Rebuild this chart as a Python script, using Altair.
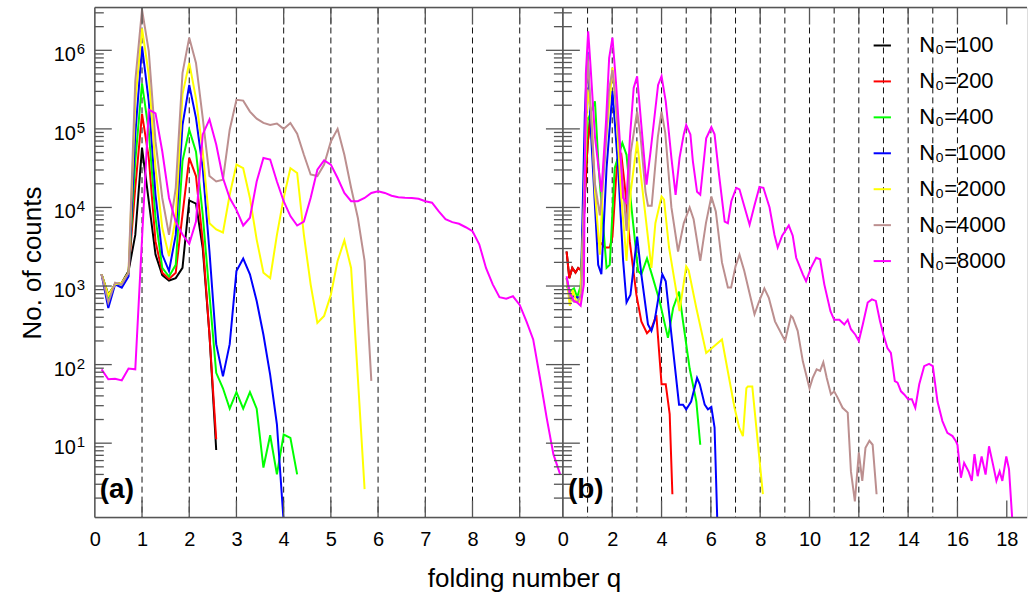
import altair as alt
import pandas as pd

# ---------------- series definitions ----------------
series_names = ["N₀=100", "N₀=200", "N₀=400", "N₀=1000", "N₀=2000", "N₀=4000", "N₀=8000"]
series_colors = ["#000000", "#ff0000", "#00ff00", "#0000ff", "#ffff00", "#bc8f8f", "#ff00ff"]

# ---------------- panel (a): counts on a grid of q = k/7 ----------------
a_black = [1410, 776, 1050, 1100, 1550, 4470, 57500, 12000, 2510, 1380, 1175, 1260, 1700,
           12300, 11200, 3050, 240, 8.2]
a_red = [1410, 710, 1050, 1050, 1480, 17800, 155000, 42700, 3700, 1480, 1230, 1480, 8100,
         42700, 25100, 3700, 240, 11.2]
a_green = [1410, 710, 1050, 1050, 1480, 38900, 380000, 93300, 7400, 1700, 1320, 1860, 38900,
           97700, 51300, 8100, 776, 78.5, 50, 27.5, 44.7, 27.5, 44.7, 27.5, 4.9, 12.6, 4.0,
           12.9, 11.7, 4.0]
a_blue = [1410, 525, 1050, 955, 1320, 85100, 1120000, 224000, 14500, 2510, 1550, 4470, 112000,
          363000, 138000, 31600, 2750, 182, 70.8, 182, 1550, 2240, 1410, 646, 240, 74, 17.4, 1.0]
a_yellow = [1410, 760, 1050, 1100, 1480, 224000, 1900000, 490000, 31600, 5500, 2400, 7400,
            275000, 692000, 245000, 51900, 6300, 5250, 4800, 14500, 35100, 31600, 13200, 3900,
            1480, 1260, 4470, 13200, 31600, 27500, 4470, 1050, 339, 417, 776, 2090, 3800, 1700,
            68, 2.6]
a_brown = [1410, 617, 1100, 1050, 1480, 407000, 3300000, 977000, 69200, 13200, 4470, 17800,
           513000, 1450000, 692000, 138000, 25100, 21400, 22600, 97700, 234000, 229000, 166000,
           135000, 119000, 112000, 117000, 100000, 119000, 87100, 46800, 26300, 25100, 35100,
           69200, 100000, 46800, 17800, 7400, 2090, 62]
a_magenta = [87, 65, 66, 63, 89, 87, 4000, 176000, 158000, 51900, 13200, 6600, 4520, 3440, 6600,
             85100, 132000, 63100, 23700, 13200, 9330, 5890, 7400, 21400, 42700, 40700, 21400,
             12000, 7760, 5890, 6600, 13200, 30200, 39800, 35100, 23700, 15300, 12000, 12000,
             13200, 15300, 16100, 15300, 14100, 13500, 13300, 13200, 12900, 12000, 11500, 8900,
             7100, 6500, 6200, 5600, 5000, 3400, 1700, 1050, 720, 690, 740, 575, 355, 209, 68,
             21, 7.2, 4.0]
a_series = [a_black, a_red, a_green, a_blue, a_yellow, a_brown, a_magenta]

# ---------------- panel (b): (q, counts) per series ----------------
b_red_q = [0.15, 0.26, 0.38, 0.51, 0.62, 0.75, 0.9, 1.0, 1.12, 1.25, 1.4, 1.7, 1.9, 2.01, 2.2,
           2.37, 2.5, 2.71, 2.98, 3.18, 3.41, 3.59, 3.79, 4.0, 4.17, 4.33, 4.44]
b_red = [2750, 1260, 1700, 1480, 1700, 1580, 15800, 63100, 151000, 31600, 3980, 3090, 3090, 4270,
         39800, 46800, 20000, 3720, 776, 355, 251, 288, 427, 56.2, 56.2, 23.4, 2.24]
b_black_q = [0.15, 0.26, 0.38, 0.51, 0.62, 0.75, 0.9, 1.0, 1.12]
b_black = [2750, 1260, 1700, 1480, 1700, 1580, 15800, 63100, 151000]
b_green_q = [0.15, 0.28, 0.45, 0.58, 0.72, 0.9, 1.0, 1.3, 1.45, 1.77, 1.9, 2.1, 2.41, 2.58, 2.78,
             3.05, 3.18, 3.41, 3.65, 3.92, 4.26, 4.47, 4.71, 4.87, 5.14, 5.41, 5.57]
b_green = [1000, 851, 933, 724, 1000, 31600, 126000, 224000, 31600, 1700, 1860, 31600, 66100,
           46800, 10000, 1550, 1410, 2240, 1260, 646, 219, 525, 851, 355, 89.1, 33.9, 9.55]
b_blue_q = [0.15, 0.28, 0.48, 0.72, 0.89, 1.0, 1.13, 1.43, 1.56, 1.77, 2.01, 2.24, 2.44, 2.58,
            2.74, 3.01, 3.18, 3.45, 3.59, 3.72, 4.03, 4.17, 4.4, 4.71, 4.87, 5.0, 5.2, 5.44,
            5.55, 5.75, 5.88, 6.02, 6.15, 6.29]
b_blue = [1260, 794, 724, 708, 158000, 955000, 100000, 1860, 1410, 31600, 302000, 31600, 2140,
          617, 776, 4270, 1410, 324, 269, 363, 1410, 1150, 240, 30.9, 30.9, 26.9, 33.9, 67.6,
          56.2, 30.9, 26.9, 28.8, 15.8, 0.5]
b_yellow_q = [0.15, 0.28, 0.4, 0.55, 0.7, 0.85, 1.0, 1.15, 1.3, 1.5, 1.65, 2.01, 2.15, 2.35,
              2.58, 2.75, 3.01, 3.2, 3.59, 3.75, 4.0, 4.1, 4.3, 4.73, 5.0, 5.1, 5.41, 5.81, 6.0,
              6.45, 6.96, 7.15, 7.3, 7.44, 7.5, 7.68, 8.11]
b_yellow = [1260, 562, 891, 631, 631, 10000, 316000, 158000, 15800, 2510, 31600, 603000, 200000,
            15800, 2090, 15800, 69200, 20000, 1700, 6310, 13800, 12600, 3160, 479, 1780, 1580,
            525, 141, 158, 209, 28.2, 15.8, 12.3, 50.1, 52.5, 52.5, 2.24]
b_brown_q = [0.15, 0.28, 0.45, 0.6, 0.75, 0.88, 1.0, 1.14, 1.3, 1.5, 1.7, 1.87, 2.01, 2.15, 2.35,
             2.58, 2.75, 3.01, 3.15, 3.35, 3.45, 3.6, 3.85, 4.0, 4.15, 4.4, 4.67, 4.9, 5.14, 5.3,
             5.57, 5.8, 6.02, 6.2, 6.45, 6.69, 6.82, 7.0, 7.16, 7.35, 7.77, 7.95, 8.17, 8.35,
             8.6, 9.01, 9.25, 9.32, 9.52, 9.73, 10.0, 10.13, 10.29, 10.43, 10.56, 10.7, 10.87,
             11.0, 11.14, 11.34, 11.55, 11.68, 11.84, 12.0, 12.14, 12.27, 12.43, 12.56, 12.72]
b_brown = [1260, 708, 631, 631, 794, 31600, 891000, 158000, 20000, 7940, 39800, 316000, 562000,
           200000, 39800, 5010, 50100, 166000, 79400, 15800, 10500, 10500, 79400, 166000, 89100,
           10000, 2750, 6310, 10000, 7080, 2090, 6310, 13800, 8910, 2000, 955, 955, 1780, 2510,
           1580, 437, 631, 933, 708, 355, 200, 417, 398, 269, 110, 50.1, 67.6, 87.1, 83.2, 107,
           67.6, 41.7, 45.7, 38.0, 28.2, 24.5, 4.37, 1.82, 7.59, 3.31, 8.71, 10.7, 9.55, 2.24]
b_magenta_q = [0.15, 0.28, 0.45, 0.58, 0.72, 0.85, 0.93, 1.025, 1.12, 1.3, 1.56, 1.75, 1.875,
               2.01, 2.15, 2.31, 2.44, 2.575, 2.72, 2.87, 3.01, 3.18, 3.39, 3.55, 3.86, 4.0, 4.17,
               4.4, 4.57, 4.73, 4.9, 5.0, 5.17, 5.27, 5.44, 5.57, 5.81, 6.02, 6.15, 6.33, 6.56,
               6.69, 6.83, 7.03, 7.16, 7.37, 7.57, 7.77, 7.97, 8.13, 8.38, 8.58, 8.71, 8.89,
               9.16, 9.32, 9.46, 9.73, 9.86, 10.06, 10.27, 10.43, 10.6, 10.85, 11.0, 11.21,
               11.41, 11.55, 11.68, 11.86, 12.0, 12.16, 12.36, 12.53, 12.69, 12.86, 13.0, 13.16,
               13.3, 13.46, 13.57, 13.71, 13.84, 14.0, 14.15, 14.29, 14.45, 14.65, 14.85, 15.0,
               15.19, 15.39, 15.59, 15.8, 15.93, 16.0, 16.14, 16.27, 16.45, 16.58, 16.69, 16.82,
               16.98, 17.14, 17.28, 17.44, 17.58, 17.71, 17.82, 17.98, 18.09, 18.27]
b_magenta = [1330, 813, 646, 617, 562, 1050, 501000, 1740000, 631000, 79400, 15800, 126000,
             794000, 1450000, 398000, 69200, 13200, 11500, 79400, 331000, 468000, 112000, 19500,
             50100, 363000, 468000, 224000, 42700, 14500, 42700, 85100, 112000, 85100, 38900,
             15800, 14500, 75900, 105000, 85100, 26300, 6610, 6310, 12000, 17800, 17000, 10000,
             6030, 10700, 18200, 17800, 10000, 4470, 3090, 4370, 5890, 4370, 2290, 1410, 1150,
             1700, 2290, 2190, 1050, 479, 372, 372, 324, 372, 282, 240, 200, 324, 617, 676, 646,
             355, 240, 162, 141, 61.7, 58.9, 45.7, 41.7, 36.3, 36.3, 28.2, 56.2, 95.5, 102, 95.5,
             33.9, 19.1, 13.5, 12.3, 10.7, 9.55, 3.63, 5.62, 4.37, 3.31, 7.24, 3.80, 6.76, 3.98,
             9.12, 5.37, 3.31, 4.37, 3.31, 6.76, 4.68, 0.63]
b_series_q = [b_black_q, b_red_q, b_green_q, b_blue_q, b_yellow_q, b_brown_q, b_magenta_q]
b_series = [b_black, b_red, b_green, b_blue, b_yellow, b_brown, b_magenta]

# axis / grid values
a_ticks = list(range(0, 10))
b_ticks = list(range(0, 19, 2))
a_grid = list(range(1, 10))
b_grid = list(range(1, 17))
y_major = [10, 100, 1000, 10000, 100000, 1000000]
y_exponents = ["1", "2", "3", "4", "5", "6"]
y_minor = [m * 10 ** e for e in range(0, 7) for m in range(2, 10) if 1.13 <= m * 10 ** e <= 3.5e6]

# ---------------- build tables ----------------
rows_a = []
for name, vals in zip(series_names, a_series):
    for k, v in enumerate(vals, start=1):
        rows_a.append({"series": name, "q": k / 7, "count": v})
df_a = pd.DataFrame(rows_a)

rows_b = []
for name, qs, vals in zip(series_names, b_series_q, b_series):
    for q, v in zip(qs, vals):
        rows_b.append({"series": name, "q": q, "count": v})
df_b = pd.DataFrame(rows_b)

df_ylab = pd.DataFrame({"v": y_major, "e": y_exponents})

# ---------------- geometry / styles ----------------
W_A, W_B, H = 469, 465, 511
FONT = "Liberation Sans"
FRAME = "#555555"
MAJ, MIN = 17, 9

yscale = alt.Scale(type="log", domain=[1.13, 3.5e6], nice=False)
xa_scale = alt.Scale(domain=[0, 9.915], nice=False, zero=False)
xb_scale = alt.Scale(domain=[0, 18.82], nice=False, zero=False)
color_scale = alt.Scale(domain=series_names, range=series_colors)

y_axis = alt.Axis(values=y_major, labels=False, ticks=False, domain=False, grid=False,
                  title="No. of counts", titleFontSize=26, titleFontWeight="normal",
                  titleFont=FONT, titleColor="black", titleX=-62, titleY=H / 2, titleAngle=270,
                  titleAlign="center", titleBaseline="middle")

xa_axis = alt.Axis(values=a_ticks, format="d", ticks=False, domain=False, grid=False,
                   labelFontSize=20, labelPadding=12, labelFlush=False, labelOverlap=False,
                   labelFont=FONT, labelColor="black",
                   title="folding number q", titleFontSize=26, titleFontWeight="normal",
                   titleFont=FONT, titleColor="black", titleX=430, titleY=61,
                   titleAlign="center", titleBaseline="middle")
xb_axis = alt.Axis(values=b_ticks, format="d", ticks=False, domain=False, grid=False,
                   labelFontSize=20, labelPadding=12, labelFlush=False, labelOverlap=False,
                   labelFont=FONT, labelColor="black", title=None)

legend_b = alt.Legend(title=None, orient="none", legendX=309, legendY=27, symbolType="stroke",
                      symbolSize=300, symbolStrokeWidth=2, labelFontSize=22, labelFont=FONT,
                      labelColor="black", rowPadding=14, labelOffset=26, padding=0)

dummy = alt.Data(values=[{"d": 0}])


def panel(df, xscale, xaxis, yaxis, legend, grid_vals, xtick_vals, W, label, right_edge, ylabels):
    layers = []
    # dashed vertical lines at integer q
    layers.append(
        alt.Chart(pd.DataFrame({"g": grid_vals}))
        .mark_rule(strokeDash=[6, 4], color="#111111", strokeWidth=1)
        .encode(x=alt.X("g:Q", scale=xscale, axis=xaxis))
    )
    # series
    for name in series_names:
        layers.append(
            alt.Chart(df)
            .transform_filter(alt.datum.series == name)
            .mark_line(strokeWidth=2, clip=True)
            .encode(
                x=alt.X("q:Q", scale=xscale, axis=xaxis),
                y=alt.Y("count:Q", scale=yscale, axis=yaxis),
                color=alt.Color("series:N", scale=color_scale, legend=legend),
            )
        )
    # inward y ticks
    edges = [(0, True)]
    if right_edge:
        edges.append((W, False))
    for vals, ln in [(y_major, MAJ), (y_minor, MIN)]:
        tdf = pd.DataFrame({"v": vals})
        for ex, left in edges:
            x0, x1 = (ex, ex + ln) if left else (ex - ln, ex)
            layers.append(
                alt.Chart(tdf).mark_rule(color=FRAME, strokeWidth=1.3)
                .encode(y=alt.Y("v:Q", scale=yscale, axis=yaxis),
                        x=alt.value(x0), x2=alt.value(x1))
            )
    # y tick labels: "10" with superscript exponent
    if ylabels:
        base = alt.Chart(df_ylab)
        layers.append(
            base.mark_text(text="10", fontSize=20, font=FONT, align="right",
                           baseline="alphabetic", dy=11, color="black")
            .encode(y=alt.Y("v:Q", scale=yscale, axis=yaxis), x=alt.value(-19))
        )
        layers.append(
            base.mark_text(fontSize=15, font=FONT, align="left", baseline="alphabetic",
                           dy=4, color="black")
            .encode(y=alt.Y("v:Q", scale=yscale, axis=yaxis), x=alt.value(-18),
                    text="e:N")
        )
    # inward x ticks top and bottom
    xdf = pd.DataFrame({"t": xtick_vals})
    for y0, y1 in [(0, MAJ), (H - MAJ, H)]:
        layers.append(
            alt.Chart(xdf).mark_rule(color=FRAME, strokeWidth=1.3)
            .encode(x=alt.X("t:Q", scale=xscale, axis=xaxis), y=alt.value(y0), y2=alt.value(y1))
        )
    # frame
    frame = alt.Chart(dummy).mark_rule(color=FRAME, strokeWidth=1.5)
    layers.append(frame.encode(x=alt.value(0), x2=alt.value(W), y=alt.value(0)))
    layers.append(frame.encode(x=alt.value(0), x2=alt.value(W), y=alt.value(H)))
    layers.append(frame.encode(x=alt.value(0), y=alt.value(0), y2=alt.value(H)))
    if right_edge:
        layers.append(frame.encode(x=alt.value(W), y=alt.value(0), y2=alt.value(H)))
    # panel label
    layers.append(
        alt.Chart(dummy)
        .mark_text(text=label, fontSize=28, fontWeight="bold", font=FONT, align="left",
                   baseline="alphabetic", color="black")
        .encode(x=alt.value(5), y=alt.value(491))
    )
    return alt.layer(*layers).properties(width=W, height=H)


left = panel(df_a, xa_scale, xa_axis, y_axis, None, a_grid, list(range(1, 10)), W_A, "(a)",
             True, True)
right = panel(df_b, xb_scale, xb_axis, None, legend_b, b_grid, b_ticks[1:], W_B, "(b)",
              False, False)

chart = (
    alt.hconcat(left, right, spacing=0, bounds="flush")
    .resolve_scale(color="independent", x="independent", y="independent")
    .resolve_legend(color="independent")
    .properties(padding={"left": 19, "top": 5, "right": 0, "bottom": 2})
    .configure_view(stroke=None)
    .configure(font=FONT, background="white")
)

chart.save("out.html", embed_options={"renderer": "svg", "actions": False})
